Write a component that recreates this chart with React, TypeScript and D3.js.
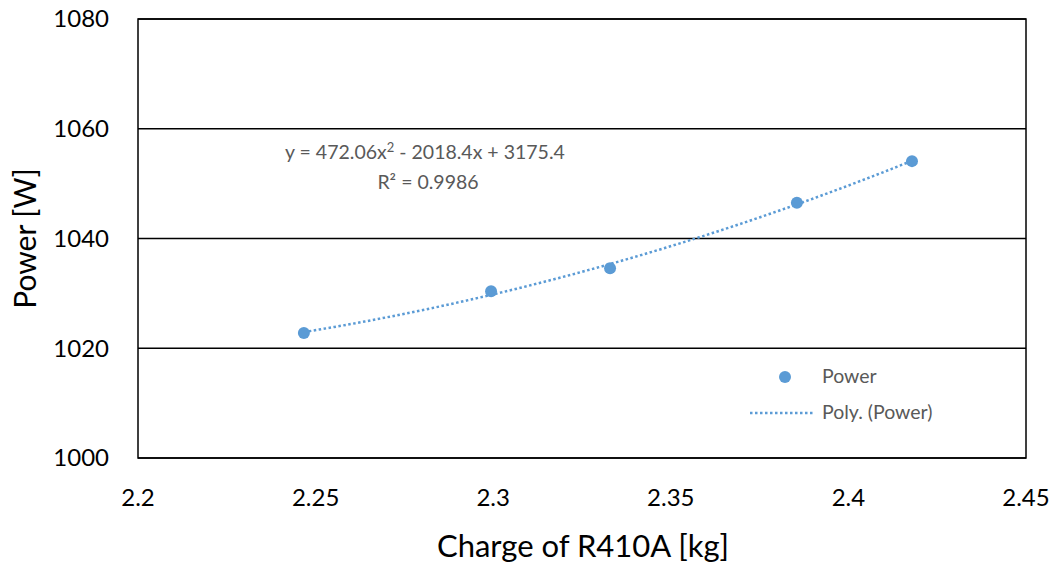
import React from "react";
import * as d3 from "d3";

// measured points
const charge = [2.2467, 2.2994, 2.3329, 2.3855, 2.4179];
const power = [1022.8, 1030.4, 1034.6, 1046.5, 1054.1];
const xTicks = [2.2, 2.25, 2.3, 2.35, 2.4, 2.45];
const yTicks = [1000, 1020, 1040, 1060, 1080];

const W = 1058;
const H = 565;
const margin = { top: 19, right: 32, bottom: 107, left: 138 };
const blue = "#5b9bd5";
const grey = "#595959";
const font = "Lato, 'Open Sans', sans-serif";

// least-squares quadratic, same as the excel trendline
function fitQuad(xs: number[], ys: number[]) {
  const n = xs.length;
  let s = [0, 0, 0, 0, 0];
  let t = [0, 0, 0];
  for (let i = 0; i < n; i++) {
    for (let k = 0; k < 5; k++) s[k] += Math.pow(xs[i], k);
    for (let k = 0; k < 3; k++) t[k] += ys[i] * Math.pow(xs[i], k);
  }
  const m = [
    [s[0], s[1], s[2], t[0]],
    [s[1], s[2], s[3], t[1]],
    [s[2], s[3], s[4], t[2]],
  ];
  for (let c = 0; c < 3; c++) {
    for (let r = c + 1; r < 3; r++) {
      const f = m[r][c] / m[c][c];
      for (let k = c; k < 4; k++) m[r][k] -= f * m[c][k];
    }
  }
  const coef = [0, 0, 0];
  for (let r = 2; r >= 0; r--) {
    let v = m[r][3];
    for (let k = r + 1; k < 3; k++) v -= m[r][k] * coef[k];
    coef[r] = v / m[r][r];
  }
  return (x: number) => coef[0] + coef[1] * x + coef[2] * x * x;
}

export default function App() {
  const iw = W - margin.left - margin.right;
  const ih = H - margin.top - margin.bottom;
  const x = d3.scaleLinear().domain([2.2, 2.45]).range([0, iw]);
  const y = d3.scaleLinear().domain([1000, 1080]).range([ih, 0]);

  const f = fitQuad(charge, power);
  const x0 = d3.min(charge)!;
  const x1 = d3.max(charge)!;
  const trend = d3.range(0, 41).map((i) => {
    const cx = x0 + ((x1 - x0) * i) / 40;
    return [cx, f(cx)] as [number, number];
  });
  const line = d3
    .line<[number, number]>()
    .x((d) => x(d[0]))
    .y((d) => y(d[1]))
    .curve(d3.curveMonotoneX);

  return (
    <svg width={W} height={H} style={{ display: "block", position: "absolute", left: 0, top: 0 }}>
      <rect width={W} height={H} fill="#fff" />
      <g transform={`translate(${margin.left},${margin.top})`}>
        {yTicks.map((t) => (
          <g key={t}>
            <line x1={0} x2={iw} y1={y(t)} y2={y(t)} stroke="#000" strokeWidth={1.5} />
            <text x={-29} y={y(t)} dy="0.35em" textAnchor="end" fontFamily={font} fontSize={24} fill="#000">
              {t}
            </text>
          </g>
        ))}
        <rect x={0} y={0} width={iw} height={ih} fill="none" stroke="#000" strokeWidth={1.5} />
        {xTicks.map((t) => (
          <text key={t} x={x(t)} y={ih + 40} dy="0.35em" textAnchor="middle" fontFamily={font} fontSize={24} fill="#000">
            {t}
          </text>
        ))}

        <path d={line(trend) || ""} fill="none" stroke={blue} strokeWidth={2.5} strokeDasharray="2.5,2.5" />
        {charge.map((c, i) => (
          <circle key={i} cx={x(c)} cy={y(power[i])} r={6} fill={blue} />
        ))}

        <text x={285 - margin.left} y={152 - margin.top} dy="0.35em" fontFamily={font} fontSize={19.5} fill={grey}>
          y = 472.06x<tspan dy="-7" fontSize={13}>2</tspan>
          <tspan dy="7"> - 2018.4x + 3175.4</tspan>
        </text>
        <text x={428 - margin.left} y={182 - margin.top} dy="0.35em" textAnchor="middle" fontFamily={font} fontSize={19.5} fill={grey}>
          R² = 0.9986
        </text>

        <g transform={`translate(${750 - margin.left},${376 - margin.top})`}>
          <circle cx={35} cy={1} r={6} fill={blue} />
          <text x={72} y={0} dy="0.35em" fontFamily={font} fontSize={19.5} fill={grey}>
            Power
          </text>
          <line x1={0} x2={63} y1={37} y2={37} stroke={blue} strokeWidth={2.5} strokeDasharray="2.5,2.5" />
          <text x={72} y={36} dy="0.35em" fontFamily={font} fontSize={19.5} fill={grey}>
            Poly. (Power)
          </text>
        </g>
      </g>
      <text
        transform={`translate(25,${margin.top + ih / 2}) rotate(-90)`}
        dy="0.35em"
        textAnchor="middle"
        fontFamily={font}
        fontSize={30}
        fill="#000"
      >
        Power [W]
      </text>
      <text x={583} y={546} dy="0.35em" textAnchor="middle" fontFamily={font} fontSize={31} fill="#000">
        Charge of R410A [kg]
      </text>
    </svg>
  );
}
